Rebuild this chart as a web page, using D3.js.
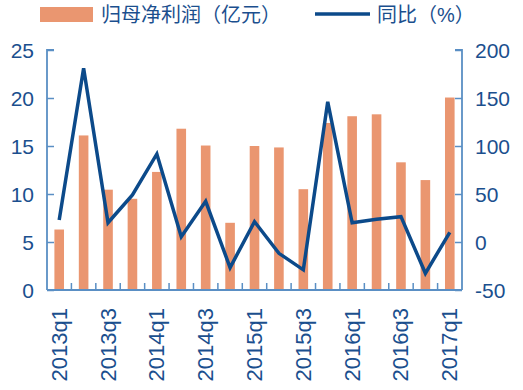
<!DOCTYPE html>
<html><head><meta charset="utf-8">
<script src="https://cdn.jsdelivr.net/npm/d3@7/dist/d3.min.js"></script>
<style>
body{margin:0;background:#fff;}
text{font-family:"Liberation Sans",Arial,"Noto Sans CJK SC",sans-serif;}
</style></head>
<body><svg id="c" width="523" height="390"></svg>
<script>
const categories = ["2013q1","2013q2","2013q3","2013q4","2014q1","2014q2","2014q3","2014q4","2015q1","2015q2","2015q3","2015q4","2016q1","2016q2","2016q3","2016q4","2017q1"];
const profit = [6.3,16.1,10.45,9.5,12.3,16.8,15.05,7.0,15.0,14.85,10.5,17.4,18.1,18.3,13.3,11.45,20.05];
const yoy = [22.9,181,20.1,49,91.7,5.6,42.4,-26.7,21.2,-11.8,-29,146,20,23.6,26.4,-32.6,10.1];
const leftTicks = [0,5,10,15,20,25];
const rightTicks = [-50,0,50,100,150,200];
const labelEvery = 2;
const legendNames = ["归母净利润（亿元）","同比（%）"];

const barColor = "#ea9670", lineColor = "#0c4a8a", axisColor = "#5a8fc4", textColor = "#1b4f8e";
const svg = d3.select("#c");
const L = 47, R = 462, T = 50, B = 290;

const xb = d3.scaleBand().domain(categories).range([L, R]);
const yL = d3.scaleLinear().domain([0,25]).range([B,T]);
const yR = d3.scaleLinear().domain([-50,200]).range([B,T]);

// bars
svg.append("g").selectAll("rect").data(categories).join("rect")
  .attr("x", d => xb(d) + xb.bandwidth()/2 - 4.8)
  .attr("width", 9.6)
  .attr("y", (d,i) => yL(profit[i]))
  .attr("height", (d,i) => B - yL(profit[i]))
  .attr("fill", barColor);

// axes
const axL = svg.append("g").attr("transform", `translate(${L},0)`)
  .call(d3.axisRight(yL).tickValues(leftTicks).tickSize(7).tickFormat(""));
const axR = svg.append("g").attr("transform", `translate(${R},0)`)
  .call(d3.axisLeft(yR).tickValues(rightTicks).tickSize(7).tickFormat(""));
const bTicks = categories.slice(1).map(c => xb(c));
const axB = svg.append("g").attr("transform", `translate(0,${B})`);
axB.append("line").attr("x1", L).attr("x2", R).attr("y1",0).attr("y2",0).attr("stroke", axisColor).attr("stroke-width",1.8);
axB.selectAll("line.t").data(bTicks).join("line").attr("class","t")
  .attr("x1", d=>d).attr("x2", d=>d).attr("y1",0).attr("y2",-7).attr("stroke", axisColor).attr("stroke-width",1.5);
[axL, axR].forEach(a => {
  a.select(".domain").attr("stroke", axisColor).attr("stroke-width",1.8);
  a.selectAll(".tick line").attr("stroke", axisColor).attr("stroke-width",1.5);
});
axL.select(".domain").attr("d", `M7,${T}H0V${B}`);
axR.select(".domain").attr("d", `M-7,${T}H0V${B}`);

// tick labels
svg.append("g").selectAll("text").data(leftTicks).join("text")
  .attr("x", 34).attr("y", d => yL(d)).attr("dy","0.36em")
  .attr("text-anchor","end").attr("font-size",21).attr("fill",textColor).text(d=>d);
svg.append("g").selectAll("text").data(rightTicks).join("text")
  .attr("x", 475).attr("y", d => yR(d)).attr("dy","0.36em")
  .attr("text-anchor","start").attr("font-size",21).attr("fill",textColor).text(d=>d);
svg.append("g").selectAll("text").data(categories.filter((c,i)=>i%labelEvery===0)).join("text")
  .attr("transform", d => `translate(${xb(d)+xb.bandwidth()/2+7.5},308) rotate(-90)`)
  .attr("text-anchor","end").attr("font-size",22).attr("fill",textColor).text(d=>d);

// line
svg.append("path").datum(yoy)
  .attr("d", d3.line().x((d,i)=>xb(categories[i])+xb.bandwidth()/2).y(d=>yR(d)))
  .attr("fill","none").attr("stroke",lineColor).attr("stroke-width",3.5).attr("stroke-linejoin","miter");

// legend
const lg = svg.append("g");
lg.append("rect").attr("x",40).attr("y",7).attr("width",53).attr("height",15).attr("fill",barColor);
lg.append("text").attr("x",101).attr("y",14.5).attr("dy","0.36em").attr("font-size",20).attr("fill",textColor)
  .attr("font-family","'Noto Sans CJK SC',sans-serif").text(legendNames[0]);
lg.append("line").attr("x1",315).attr("x2",370).attr("y1",14).attr("y2",14).attr("stroke",lineColor).attr("stroke-width",3.5);
lg.append("text").attr("x",377).attr("y",14.5).attr("dy","0.36em").attr("font-size",20).attr("fill",textColor)
  .attr("font-family","'Noto Sans CJK SC',sans-serif").text(legendNames[1]);
</script></body></html>
